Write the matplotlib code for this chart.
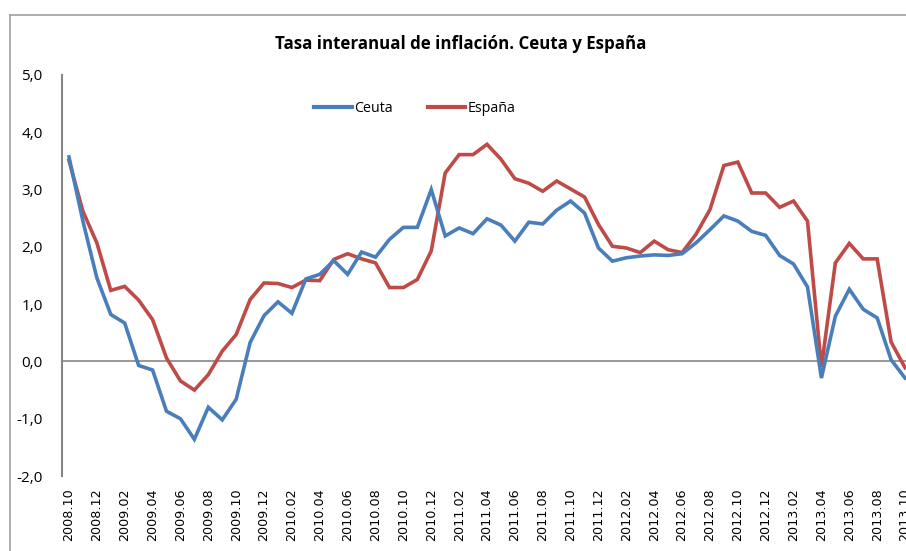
import matplotlib.pyplot as plt
from matplotlib.lines import Line2D

# monthly labels 2008.10 .. 2013.10
months = [f"{2008 + (9 + k) // 12}.{(9 + k) % 12 + 1:02d}" for k in range(61)]

ceuta = [3.57, 2.45, 1.46, 0.82, 0.67, -0.07, -0.15, -0.87, -1.00, -1.36,
         -0.80, -1.02, -0.66, 0.33, 0.80, 1.04, 0.84, 1.44, 1.52, 1.76,
         1.52, 1.91, 1.82, 2.13, 2.34, 2.34, 3.00, 2.19, 2.33, 2.23,
         2.49, 2.38, 2.10, 2.43, 2.40, 2.64, 2.80, 2.59, 1.98, 1.75,
         1.81, 1.84, 1.86, 1.85, 1.88, 2.07, 2.30, 2.54, 2.45, 2.27,
         2.20, 1.85, 1.70, 1.30, -0.29, 0.79, 1.26, 0.91, 0.76, 0.03,
         -0.29]
espana = [3.51, 2.62, 2.07, 1.24, 1.31, 1.07, 0.73, 0.06, -0.34, -0.50,
          -0.23, 0.18, 0.47, 1.08, 1.37, 1.36, 1.29, 1.42, 1.41, 1.78,
          1.88, 1.79, 1.72, 1.29, 1.29, 1.43, 1.93, 3.29, 3.61, 3.61,
          3.79, 3.53, 3.19, 3.11, 2.97, 3.15, 3.01, 2.87, 2.39, 2.01,
          1.98, 1.90, 2.10, 1.95, 1.90, 2.22, 2.65, 3.42, 3.48, 2.94,
          2.94, 2.69, 2.80, 2.45, -0.10, 1.72, 2.06, 1.79, 1.79, 0.34,
          -0.11]

yticks = [-2, -1, 0, 1, 2, 3, 4, 5]
ylabels = ["-2,0", "-1,0", "0,0", "1,0", "2,0", "3,0", "4,0", "5,0"]

BLUE = "#4A7EBB"
RED = "#BE4B48"
GREY = "#868686"

fig = plt.figure(figsize=(9.06, 5.51), dpi=100)
ax = fig.add_axes([62 / 906, 0.1361, 850 / 906, 0.7278])

x = list(range(len(months)))
ax.axhline(0, color=GREY, lw=1.2, zorder=1)
ax.plot(x, ceuta, color=BLUE, lw=2.6, label="Ceuta", zorder=3, solid_joinstyle="miter")
ax.plot(x, espana, color=RED, lw=2.6, label="España", zorder=2, solid_joinstyle="miter")

ax.set_xlim(-0.5, 60.5)
ax.set_ylim(-2, 5)
ax.set_yticks(yticks)
ax.set_yticklabels(ylabels, family="Open Sans", fontsize=11)
ax.set_xticks(x[::2])
ax.set_xticklabels(months[::2], rotation=90, family="DejaVu Sans", fontsize=9.2, va="top")
ax.tick_params(axis="y", length=0, pad=14)
ax.tick_params(axis="x", length=0, pad=9)

for s in ["top", "right", "bottom"]:
    ax.spines[s].set_visible(False)
ax.spines["left"].set_color(GREY)
ax.spines["left"].set_linewidth(1.5)
ax.set_facecolor("none")

fig.text(0.509, 0.92, "Tasa interanual de inflación. Ceuta y España",
         ha="center", va="center", family="Open Sans", fontweight="bold", fontsize=12.2)

handles = [Line2D([], [], color=BLUE, lw=3), Line2D([], [], color=RED, lw=3)]
fig.legend(handles, ["Ceuta", "España"], loc="center", bbox_to_anchor=(0.458, 0.803),
           ncol=2, frameon=False, handlelength=2.6, handletextpad=0.15,
           columnspacing=2.5, prop={"family": "Open Sans", "size": 10.3})

# chart border (top and left visible in crop)
fig.add_artist(Line2D([10 / 906, 10 / 906], [0, 1 - 15 / 551], color="#A0A0A0", lw=1.2,
                      transform=fig.transFigure))
fig.add_artist(Line2D([10 / 906, 1], [1 - 15 / 551, 1 - 15 / 551], color="#A0A0A0", lw=1.2,
                      transform=fig.transFigure))

fig.savefig("out.png", dpi=100)
